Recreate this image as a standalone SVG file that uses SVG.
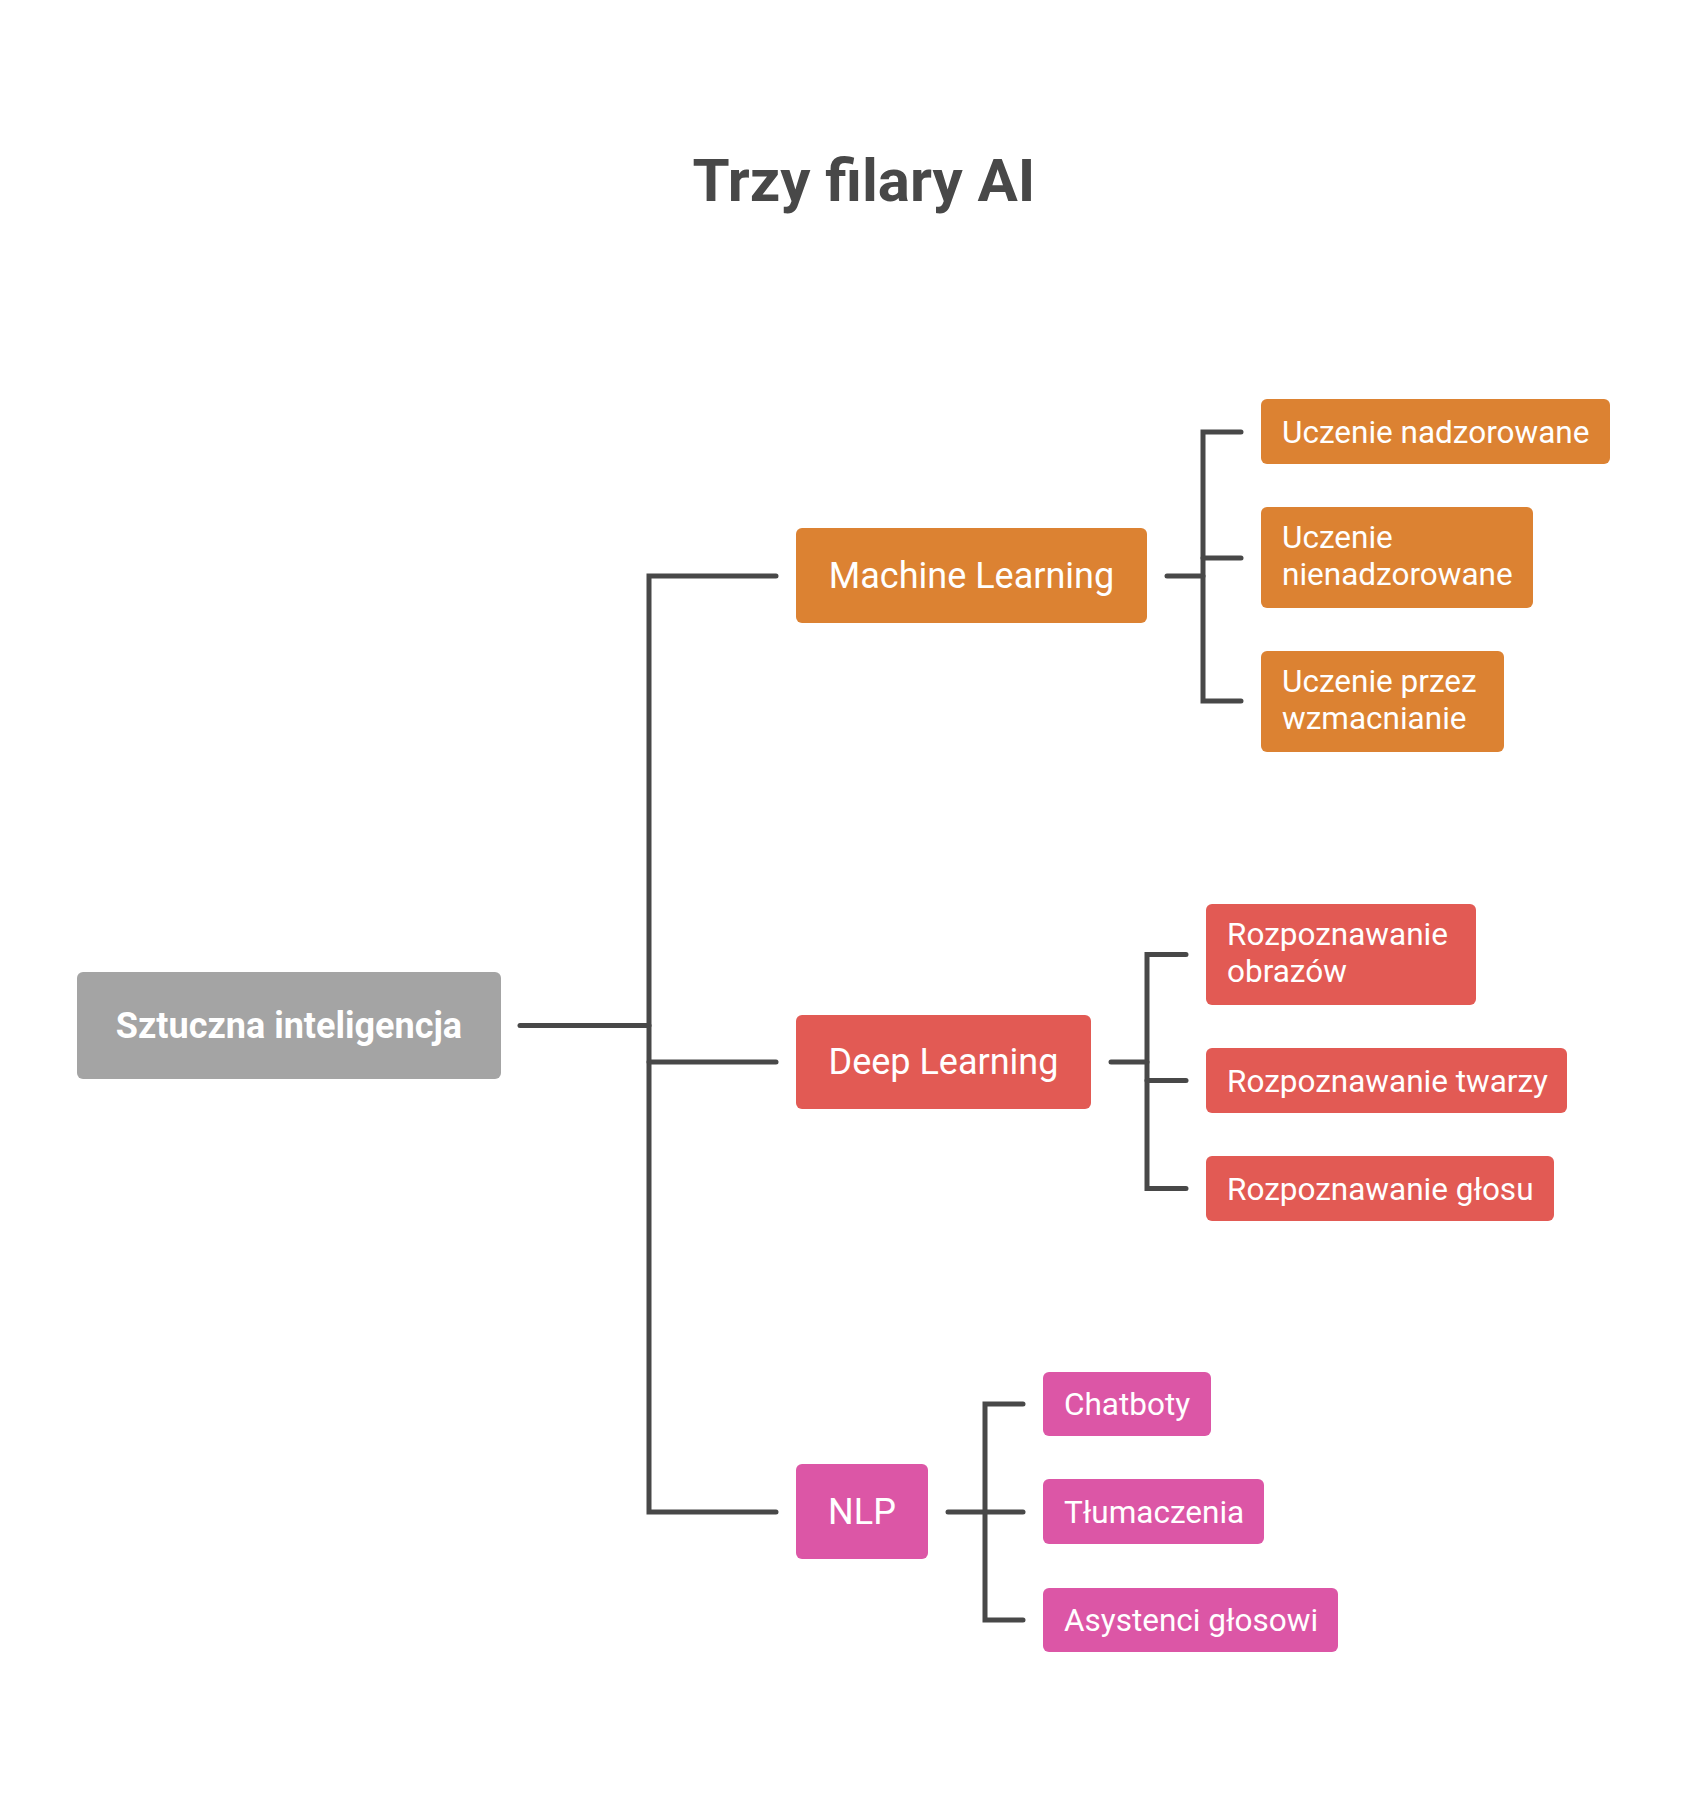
<svg xmlns="http://www.w3.org/2000/svg" width="1688" height="1800" viewBox="0 0 1688 1800">
<style>
.t{font-family:Roboto,"Liberation Sans",sans-serif;fill:#ffffff}
.p{font-size:36px;text-anchor:middle}
.c{font-size:31.5px}
.ml{fill:#DC8232}.dl{fill:#E25A54}.nlp{fill:#DC56A6}.root{fill:#A4A4A4}
.conn path{fill:none;stroke:#484848;stroke-width:5;stroke-linecap:round;stroke-linejoin:miter}
</style>
<rect width="1688" height="1800" fill="#ffffff"/>
<text x="864" y="201" font-family="Roboto,'Liberation Sans',sans-serif" font-weight="bold" font-size="60" fill="#484848" text-anchor="middle">Trzy filary AI</text>
<g class="conn" id="connectors">
<path d="M520 1025.5H649"/>
<path d="M776 576H649V1512H776"/>
<path d="M649 1062H776"/>
<path d="M1167 576H1203"/>
<path d="M1241 432H1203V701H1241"/>
<path d="M1203 558H1241"/>
<path d="M1111 1062H1147"/>
<path d="M1186 954.5H1147V1188.5H1186"/>
<path d="M1147 1080.5H1186"/>
<path d="M948 1512H985"/>
<path d="M1023 1404H985V1620H1023"/>
<path d="M985 1512H1023"/>
</g>
<g id="root"><rect class="root" x="77" y="972" width="424" height="107" rx="6"/><text class="t p" x="289" y="1038" font-weight="bold">Sztuczna inteligencja</text></g>
<g id="ml"><rect class="ml" x="796" y="528" width="351" height="95" rx="6"/><text class="t p" x="971.5" y="588">Machine Learning</text></g>
<g id="dl"><rect class="dl" x="796" y="1015" width="295" height="94" rx="6"/><text class="t p" x="943.5" y="1074">Deep Learning</text></g>
<g id="nlp"><rect class="nlp" x="796" y="1464" width="132" height="95" rx="6"/><text class="t p" x="862" y="1524">NLP</text></g>
<g id="un"><rect class="ml" x="1261" y="399" width="349" height="65" rx="6"/><text class="t c" x="1282" y="442.5">Uczenie nadzorowane</text></g>
<g id="unn"><rect class="ml" x="1261" y="507" width="272" height="101" rx="6"/><text class="t c" x="1282" y="548">Uczenie</text><text class="t c" x="1282" y="585">nienadzorowane</text></g>
<g id="upw"><rect class="ml" x="1261" y="651" width="243" height="101" rx="6"/><text class="t c" x="1282" y="692">Uczenie przez</text><text class="t c" x="1282" y="729">wzmacnianie</text></g>
<g id="ro"><rect class="dl" x="1206" y="904" width="270" height="101" rx="6"/><text class="t c" x="1227" y="945">Rozpoznawanie</text><text class="t c" x="1227" y="982">obrazów</text></g>
<g id="rt"><rect class="dl" x="1206" y="1048" width="361" height="65" rx="6"/><text class="t c" x="1227" y="1091.5">Rozpoznawanie twarzy</text></g>
<g id="rg"><rect class="dl" x="1206" y="1156" width="348" height="65" rx="6"/><text class="t c" x="1227" y="1199.5">Rozpoznawanie głosu</text></g>
<g id="chat"><rect class="nlp" x="1043" y="1372" width="168" height="64" rx="6"/><text class="t c" x="1064" y="1414.5">Chatboty</text></g>
<g id="tlum"><rect class="nlp" x="1043" y="1479" width="221" height="65" rx="6"/><text class="t c" x="1064" y="1522.5">Tłumaczenia</text></g>
<g id="asys"><rect class="nlp" x="1043" y="1588" width="295" height="64" rx="6"/><text class="t c" x="1064" y="1631">Asystenci głosowi</text></g>
</svg>
